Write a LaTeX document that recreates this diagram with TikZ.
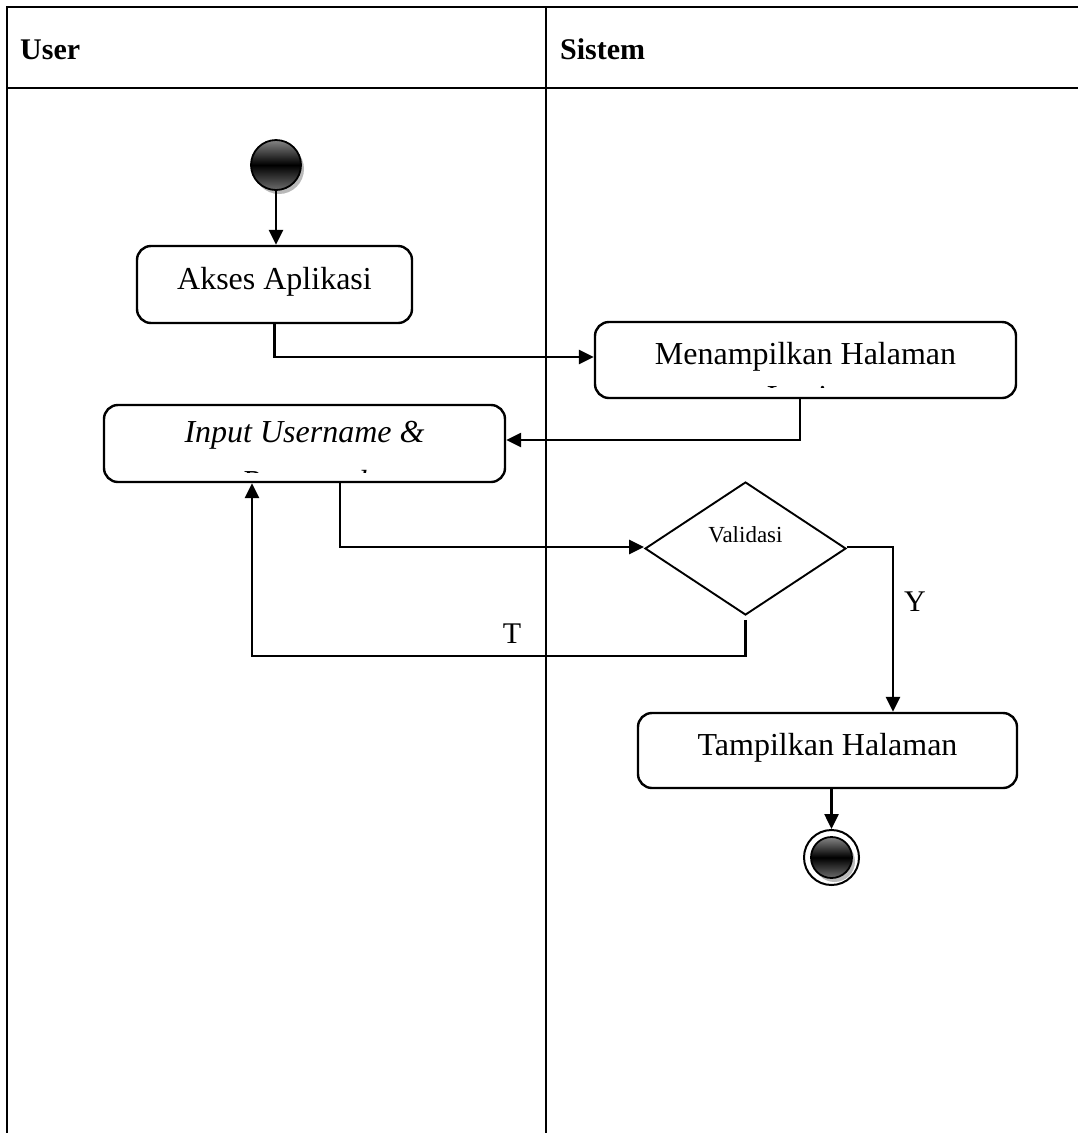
\documentclass[tikz,border=0pt]{standalone}
\usepackage{fontspec}
\setmainfont{Liberation Serif}
\usetikzlibrary{arrows.meta,shapes.geometric,shadows}

\begin{document}
\begin{tikzpicture}[x=1pt,y=-1pt,
  lane/.style={line width=2.8pt},
  lanehead/.style={anchor=base west, font=\bfseries\fontsize{30}{36}\selectfont, inner sep=0pt},
  act/.style={draw, rounded corners=14pt, line width=2.4pt, inner sep=0pt,
    font=\fontsize{32}{38}\selectfont, text height=22pt, text depth=13pt},
  cut/.style={anchor=base, inner sep=0pt, font=\fontsize{32}{38}\selectfont},
  decision/.style={diamond, draw, line width=1.9pt, inner sep=0pt,
    minimum width=201pt, minimum height=133pt,
    font=\fontsize{23}{28}\selectfont, text height=16pt, text depth=29pt},
  guard/.style={font=\fontsize{30}{36}\selectfont, inner sep=0pt},
  flow/.style={line width=2.5pt, -{Triangle[length=15pt,width=14pt]}},
  dot/.style={circle, inner sep=0pt, draw, line width=1.8pt,
    top color=gray!95, bottom color=gray!85!black, middle color=black,
    drop shadow={shadow xshift=3pt, shadow yshift=-4pt, fill=gray!55, opacity=1}},
]
\useasboundingbox (0,0) rectangle (1078,1133);

% swimlane table
\draw[lane] (7,1133) -- (7,7) -- (1078,7);
\draw[lane] (7,88) -- (1078,88);
\draw[lane] (546,7) -- (546,1133);
\node[lanehead] (huser) at (20,59) {User};
\node[lanehead] (hsys) at (560,59) {Sistem};

% initial node
\node[dot, minimum size=50pt] (start) at (276,165) {};

% activities
\node[act, minimum width=275pt, minimum height=77pt] (akses) at (274.5,284.5) {Akses Aplikasi};
\node[act, minimum width=421pt, minimum height=76pt] (tampil) at (805.5,360) {Menampilkan Halaman};
\node[act, minimum width=401pt, minimum height=77pt, text depth=25pt] (input) at (304.5,443.5) {\itshape Input Username \&};
\node[act, minimum width=379pt, minimum height=75pt] (hasil) at (827.5,750.5) {Tampilkan Halaman};

% second text lines cut off by the box edges
\begin{scope}
  \clip (600,330) rectangle (1010,387.5);
  \node[cut] (tampil2) at (805,407) {Login};
\end{scope}
\begin{scope}
  \clip (110,410) rectangle (500,472.5);
  \node[cut, font=\fontsize{32}{38}\selectfont\itshape] (input2) at (304,492) {Password};
\end{scope}

% decision
\node[decision] (valid) at (745.5,548.5) {Validasi};

% final node
\node[circle, minimum size=55pt, inner sep=0pt, draw, line width=2pt, fill=white] (end) at (831.5,857.5) {};
\node[dot, minimum size=41pt] (endcore) at (end) {};

% control flow
\draw[flow] (start.south) -- (start.south |- akses.north);
\draw[flow] (akses.south) |- ([yshift=3pt]tampil.west);
\draw[flow] ([xshift=-5.5pt]tampil.south) |- ([yshift=3.5pt]input.east);
\draw[flow] ([xshift=35.5pt]input.south) |- ([yshift=1.5pt]valid.west);
\draw[flow] ([yshift=1.5pt]valid.east) -| ([xshift=65.5pt]hasil.north);
\draw[flow] ([yshift=-4pt]valid.south) -- ++(0,36) -| ([xshift=-52.5pt]input.south);
\draw[flow] (end |- hasil.south) -- (end.north);

% guards
\node[guard] (ylab) at (915,602) {Y};
\node[guard] (tlab) at (512,634) {T};
\end{tikzpicture}
\end{document}
